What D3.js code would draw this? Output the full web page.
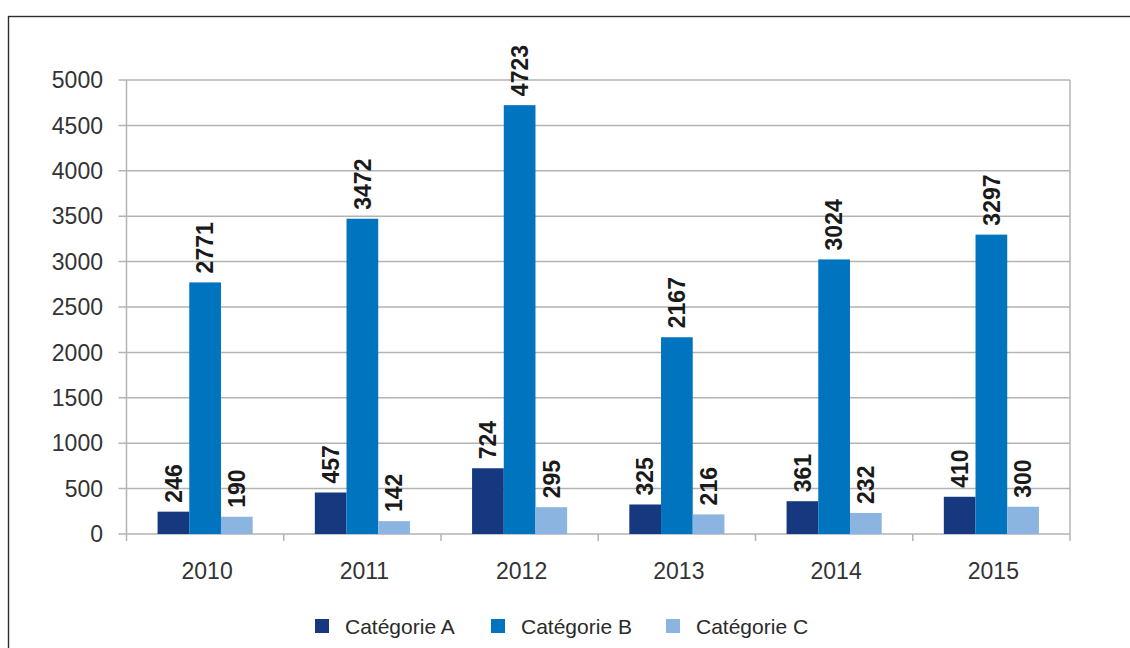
<!DOCTYPE html>
<html>
<head>
<meta charset="utf-8">
<script src="https://cdn.jsdelivr.net/npm/d3@7"></script>
<style>
  body { margin: 0; background: #fff; }
  svg { display: block; }
</style>
</head>
<body>
<div id="chart"></div>
<script>
// Data
const years = ["2010", "2011", "2012", "2013", "2014", "2015"];
const seriesNames = ["Catégorie A", "Catégorie B", "Catégorie C"];
const catA = [246, 457, 724, 325, 361, 410];
const catB = [2771, 3472, 4723, 2167, 3024, 3297];
const catC = [190, 142, 295, 216, 232, 300];
const yTicks = [0, 500, 1000, 1500, 2000, 2500, 3000, 3500, 4000, 4500, 5000];

const seriesValues = [catA, catB, catC];
const colors = ["#15387f", "#0074bf", "#8cb4e0"];

const W = 1130, H = 648;
const plot = { left: 126.5, right: 1070, top: 80, bottom: 534 };
const font = "'Liberation Sans', Arial, sans-serif";

const svg = d3.select("#chart").append("svg")
    .attr("width", W)
    .attr("height", H);

// outer frame
svg.append("rect")
    .attr("x", 8.5).attr("y", 16.5)
    .attr("width", W + 20).attr("height", H + 20)
    .attr("fill", "none")
    .attr("stroke", "#2e2e2e")
    .attr("stroke-width", 1.4);

const x = d3.scaleBand()
    .domain(years)
    .range([plot.left, plot.right]);

const xInner = d3.scaleBand()
    .domain(d3.range(seriesNames.length))
    .range([0, x.bandwidth()])
    .paddingOuter(0.98)
    .paddingInner(0);

const y = d3.scaleLinear()
    .domain([0, 5000])
    .range([plot.bottom, plot.top]);

const gridColor = "#b3b3b3";

// gridlines
svg.append("g")
    .selectAll("line")
    .data(yTicks)
    .join("line")
    .attr("x1", plot.left - 8)
    .attr("x2", plot.right)
    .attr("y1", d => y(d))
    .attr("y2", d => y(d))
    .attr("stroke", gridColor)
    .attr("stroke-width", 1.5);

// right border of plot area
svg.append("line")
    .attr("x1", plot.right).attr("x2", plot.right)
    .attr("y1", plot.top).attr("y2", plot.bottom + 7)
    .attr("stroke", gridColor)
    .attr("stroke-width", 1.5);

// y axis line
svg.append("line")
    .attr("x1", plot.left).attr("x2", plot.left)
    .attr("y1", plot.top).attr("y2", plot.bottom + 7)
    .attr("stroke", gridColor)
    .attr("stroke-width", 1.5);

// x ticks between categories
svg.append("g")
    .selectAll("line")
    .data(years.slice(1))
    .join("line")
    .attr("x1", d => x(d))
    .attr("x2", d => x(d))
    .attr("y1", plot.bottom)
    .attr("y2", plot.bottom + 7)
    .attr("stroke", gridColor)
    .attr("stroke-width", 1.5);

// y tick labels
svg.append("g")
    .selectAll("text")
    .data(yTicks)
    .join("text")
    .attr("x", 103)
    .attr("y", d => y(d))
    .attr("dy", "0.36em")
    .attr("text-anchor", "end")
    .style("font", `23px ${font}`)
    .attr("fill", "#333")
    .text(d => d);

// x labels
svg.append("g")
    .selectAll("text")
    .data(years)
    .join("text")
    .attr("x", d => x(d) + x.bandwidth() / 2 + 2)
    .attr("y", 571)
    .attr("dy", "0.36em")
    .attr("text-anchor", "middle")
    .style("font", `23px ${font}`)
    .attr("fill", "#333")
    .text(d => d);

// bars
const groups = svg.append("g")
    .selectAll("g")
    .data(years)
    .join("g")
    .attr("transform", d => `translate(${x(d)},0)`);

const barData = (yr, i) => seriesValues.map((vals, s) => ({ s, v: vals[i] }));

groups.selectAll("rect")
    .data((d, i) => barData(d, i))
    .join("rect")
    .attr("x", d => xInner(d.s))
    .attr("width", xInner.bandwidth())
    .attr("y", d => y(d.v))
    .attr("height", d => y(0) - y(d.v))
    .attr("fill", d => colors[d.s]);

// value labels (rotated)
groups.selectAll("text")
    .data((d, i) => barData(d, i))
    .join("text")
    .attr("transform", d => `translate(${xInner(d.s) + xInner.bandwidth() / 2},${y(d.v) - 9}) rotate(-90)`)
    .attr("dy", "0.36em")
    .attr("text-anchor", "start")
    .style("font", `bold 23px ${font}`)
    .attr("fill", "#1a1a1a")
    .text(d => d.v);

// legend
const legendX = [315, 491, 666];
const legend = svg.append("g")
    .selectAll("g")
    .data(seriesNames)
    .join("g")
    .attr("transform", (d, i) => `translate(${legendX[i]},619)`);

legend.append("rect")
    .attr("width", 14)
    .attr("height", 14)
    .attr("fill", (d, i) => colors[i]);

legend.append("text")
    .attr("x", 30)
    .attr("y", 7)
    .attr("dy", "0.36em")
    .style("font", `21px ${font}`)
    .attr("fill", "#2a2a2a")
    .text(d => d);
</script>
</body>
</html>
